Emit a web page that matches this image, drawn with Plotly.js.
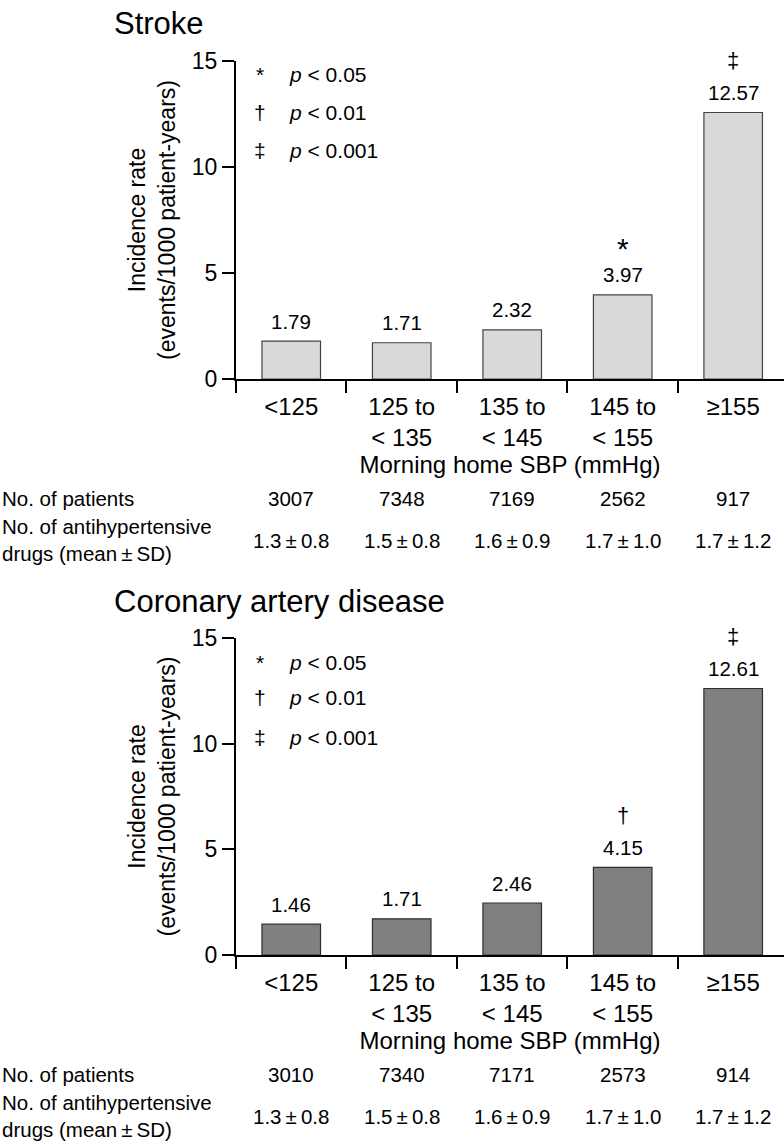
<!DOCTYPE html>
<html><head><meta charset="utf-8">
<script src="https://cdn.plot.ly/plotly-3.0.1.min.js"></script>
<style>html,body{margin:0;padding:0;background:#fff}</style>
</head><body><div id="chart" style="width:784px;height:1144px"></div>
<script>
// ---- data ----
const categories = ["<125", "125 to<br>< 135", "135 to<br>< 145", "145 to<br>< 155", "≥155"];
const strokeRates = [1.79, 1.71, 2.32, 3.97, 12.57];
const strokeSig = ["", "", "", "*", "‡"];
const strokePatients = ["3007", "7348", "7169", "2562", "917"];
const strokeDrugs = ["1.3\u2009±\u20090.8", "1.5\u2009±\u20090.8", "1.6\u2009±\u20090.9", "1.7\u2009±\u20091.0", "1.7\u2009±\u20091.2"];
const cadRates = [1.46, 1.71, 2.46, 4.15, 12.61];
const cadSig = ["", "", "", "†", "‡"];
const cadPatients = ["3010", "7340", "7171", "2573", "914"];
const cadDrugs = ["1.3\u2009±\u20090.8", "1.5\u2009±\u20090.8", "1.6\u2009±\u20090.9", "1.7\u2009±\u20091.0", "1.7\u2009±\u20091.2"];
const legendSymbols = ["*", "†", "‡"];
const legendTexts = ["<i>p</i> < 0.05", "<i>p</i> < 0.01", "<i>p</i> < 0.001"];
const panelTitles = ["Stroke", "Coronary artery disease"];
const xTitle = "Morning home SBP (mmHg)";
const yTitle = "Incidence rate<br>(events/1000 patient-years)";
const rowLabels = ["No. of patients", "No. of antihypertensive<br>drugs (mean\u2009±\u2009SD)"];

// ---- layout helpers ----
const W = 784, H = 1144;
const FONT = "Liberation Sans, Arial, sans-serif";
const px = v => v / W;
const py = v => 1 - v / H;
const xLeft = 236;

const panels = [
  {rates: strokeRates, sig: strokeSig, patients: strokePatients, drugs: strokeDrugs,
   fill: "#d9d9d9", line: "#444444", top: 61, bottom: 379, legendOff: [14, 51, 90], xa: "x", ya: "y"},
  {rates: cadRates, sig: cadSig, patients: cadPatients, drugs: cadDrugs,
   fill: "#808080", line: "#2e2e2e", top: 638, bottom: 955, legendOff: [24, 59, 99], xa: "x2", ya: "y2"}
];

const data = [];
const annotations = [];
const layout = {
  width: W, height: H, margin: {l: 0, r: 0, t: 0, b: 0},
  paper_bgcolor: "#fff", plot_bgcolor: "#fff", showlegend: false,
  font: {family: FONT, color: "#000", size: 20}
};

panels.forEach((p, k) => {
  const sfx = k === 0 ? "" : "2";
  data.push({
    type: "bar", x: categories, y: p.rates, xaxis: p.xa, yaxis: p.ya,
    marker: {color: p.fill, line: {color: p.line, width: 1.2}},
    width: 0.53, hoverinfo: "skip"
  });
  layout["xaxis" + sfx] = {
    domain: [px(xLeft), 1], anchor: p.ya, type: "category", range: [-0.5, 4.46],
    tickson: "boundaries", ticks: "outside", ticklen: 12, tickwidth: 2, tickcolor: "#000",
    showline: true, linewidth: 2, linecolor: "#000", showgrid: false, zeroline: false,
    tickfont: {size: 24, family: FONT}, ticklabelstandoff: 5, fixedrange: true,
    title: {text: xTitle, font: {size: 24, family: FONT}, standoff: 2}
  };
  layout["yaxis" + sfx] = {
    domain: [py(p.bottom), py(p.top)], anchor: p.xa, range: [0, 15],
    tickvals: [0, 5, 10, 15], ticks: "outside", ticklen: 12, tickwidth: 2, tickcolor: "#000",
    showline: true, linewidth: 2, linecolor: "#000", showgrid: false, zeroline: false,
    tickfont: {size: 23, family: FONT}, fixedrange: true,
    title: {text: yTitle, font: {size: 23, family: FONT}, standoff: 10}
  };
  // panel title
  annotations.push({xref: "paper", yref: "paper", x: px(112), y: py(p.top - 37),
    xanchor: "left", yanchor: "middle", showarrow: false, text: panelTitles[k],
    font: {size: 31, family: FONT}});
  // value labels and significance marks
  p.rates.forEach((v, i) => {
    annotations.push({xref: p.xa, yref: p.ya, x: i, y: v, showarrow: false,
      yanchor: "middle", yshift: 20, text: v.toFixed(2), font: {size: 20.5, family: FONT}});
    if (p.sig[i]) {
      const star = p.sig[i] === "*";
      annotations.push({xref: p.xa, yref: p.ya, x: i, y: v, showarrow: false,
        yanchor: "middle", yshift: star ? 46 : 52, text: p.sig[i],
        font: {size: star ? 30 : 22, family: FONT}});
    }
  });
  // p-value key
  legendSymbols.forEach((s, j) => {
    const yy = py(p.top + p.legendOff[j]);
    annotations.push({xref: "paper", yref: "paper", x: px(260), y: yy, xanchor: "center",
      yanchor: "middle", showarrow: false, text: s, font: {size: 21, family: FONT}});
    annotations.push({xref: "paper", yref: "paper", x: px(287), y: yy, xanchor: "left",
      yanchor: "middle", showarrow: false, text: legendTexts[j], font: {size: 21, family: FONT}});
  });
  // table rows
  const b = p.bottom;
  annotations.push({xref: "paper", yref: "paper", x: 0, y: py(b + 119), xanchor: "left",
    yanchor: "middle", showarrow: false, text: rowLabels[0], font: {size: 20.5, family: FONT}});
  annotations.push({xref: "paper", yref: "paper", x: 0, y: py(b + 161), xanchor: "left",
    yanchor: "middle", align: "left", showarrow: false, text: rowLabels[1], font: {size: 20.5, family: FONT}});
  p.patients.forEach((n, i) => {
    annotations.push({xref: p.xa, yref: "paper", x: i, y: py(b + 119), yanchor: "middle",
      showarrow: false, text: n, font: {size: 20.5, family: FONT}});
  });
  p.drugs.forEach((d, i) => {
    annotations.push({xref: p.xa, yref: "paper", x: i, y: py(b + 161), yanchor: "middle",
      showarrow: false, text: d, font: {size: 20.5, family: FONT}});
  });
});
layout.annotations = annotations;

Plotly.newPlot("chart", data, layout, {displayModeBar: false, staticPlot: true});
</script></body></html>
